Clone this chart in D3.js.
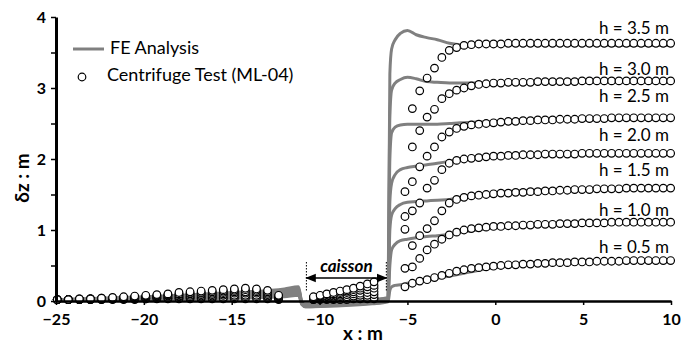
<!DOCTYPE html>
<html>
<head>
<meta charset="utf-8">
<script src="https://cdn.jsdelivr.net/npm/d3@7"></script>
<style>
  body { margin: 0; background: #fff; }
  svg { display: block; font-family: Lato, "Open Sans", sans-serif; }
</style>
</head>
<body>
<svg id="chart" width="694" height="344"></svg>
<script>
// levels of excavation h (m)
var levels = ['h = 0.5 m', 'h = 1.0 m', 'h = 1.5 m', 'h = 2.0 m', 'h = 2.5 m', 'h = 3.0 m', 'h = 3.5 m'];

// FE analysis, sampled at shared x positions
var feX = [-25, -20, -15, -12, -11.2, -11.0, -10.8, -9, -7, -6.1, -6.0, -5.9, -5.7, -5.4, -5.0, -4.5, -3.9, -3.3, -2.6, -2, -1, 0, 1, 2, 3, 5, 7, 10];
var fe05 = [0.00, 0.02, 0.04, 0.06, 0.08, -0.05, -0.08, -0.07, -0.04, -0.01, 0.15, 0.20, 0.22, 0.23, 0.25, 0.27, 0.30, 0.32, 0.35, 0.38, 0.43, 0.47, 0.50, 0.53, 0.55, 0.56, 0.56, 0.55];
var fe10 = [0.00, 0.03, 0.05, 0.08, 0.10, -0.05, -0.08, -0.06, -0.03, 0.00, 0.50, 0.72, 0.80, 0.85, 0.87, 0.89, 0.91, 0.92, 0.94, 0.97, 1.00, 1.03, 1.05, 1.07, 1.08, 1.09, 1.09, 1.09];
var fe15 = [0.01, 0.03, 0.06, 0.10, 0.12, -0.04, -0.07, -0.05, -0.02, 0.01, 1.00, 1.21, 1.30, 1.36, 1.39, 1.40, 1.41, 1.42, 1.43, 1.46, 1.50, 1.53, 1.55, 1.56, 1.57, 1.58, 1.59, 1.59];
var fe20 = [0.01, 0.04, 0.08, 0.12, 0.14, -0.04, -0.07, -0.05, -0.01, 0.02, 1.40, 1.66, 1.78, 1.85, 1.88, 1.90, 1.92, 1.94, 1.97, 2.00, 2.03, 2.05, 2.06, 2.07, 2.07, 2.08, 2.08, 2.08];
var fe25 = [0.01, 0.04, 0.09, 0.14, 0.16, -0.03, -0.06, -0.04, 0.00, 0.03, 2.00, 2.37, 2.45, 2.48, 2.49, 2.49, 2.49, 2.49, 2.50, 2.51, 2.52, 2.53, 2.54, 2.54, 2.55, 2.55, 2.56, 2.56];
var fe30 = [0.02, 0.05, 0.10, 0.15, 0.18, -0.03, -0.06, -0.03, 0.01, 0.04, 2.60, 2.97, 3.07, 3.12, 3.15, 3.13, 3.09, 3.08, 3.07, 3.07, 3.07, 3.07, 3.07, 3.07, 3.08, 3.08, 3.08, 3.08];
var fe35 = [0.02, 0.06, 0.12, 0.17, 0.20, -0.02, -0.05, -0.02, 0.02, 0.05, 3.20, 3.55, 3.68, 3.77, 3.81, 3.75, 3.71, 3.68, 3.63, 3.61, 3.61, 3.61, 3.61, 3.61, 3.61, 3.61, 3.60, 3.60];

// centrifuge test ML-04: three measuring stretches
var ctLeftX = [-24.93, -24.30, -23.67, -23.04, -22.41, -21.78, -21.15, -20.52, -19.89, -19.26, -18.63, -18.00, -17.37, -16.74, -16.11, -15.48, -14.85, -14.22, -13.59, -12.96, -12.33];
var ctCaisX = [-10.35, -9.97, -9.59, -9.21, -8.83, -8.45, -8.07, -7.69, -7.28, -6.90];
var ctRightX = [-5.14, -4.72, -4.30, -3.88, -3.46, -3.04, -2.62, -2.20, -1.78, -1.36, -0.94, -0.52, -0.10, 0.32, 0.74, 1.16, 1.58, 2.00, 2.42, 2.84, 3.26, 3.68, 4.10, 4.52, 4.94, 5.36, 5.78, 6.20, 6.62, 7.04, 7.46, 7.88, 8.30, 8.72, 9.14, 9.56, 9.98];

var ct05 = {
  left: [0.02, 0.02, 0.02, 0.02, 0.02, 0.02, 0.02, 0.02, 0.03, 0.03, 0.03, 0.03, 0.03, 0.03, 0.03, 0.03, 0.03, 0.03, 0.03, 0.03, 0.02],
  cais: [0.02, 0.02, 0.02, 0.02, 0.02, 0.02, 0.03, 0.03, 0.03, 0.03],
  right: [0.20, 0.25, 0.28, 0.30, 0.33, 0.36, 0.39, 0.42, 0.44, 0.46, 0.47, 0.48, 0.49, 0.50, 0.51, 0.51, 0.52, 0.52, 0.53, 0.53, 0.54, 0.54, 0.54, 0.55, 0.55, 0.55, 0.56, 0.56, 0.56, 0.56, 0.57, 0.57, 0.57, 0.57, 0.57, 0.57, 0.57]
};
var ct10 = {
  left: [0.02, 0.02, 0.02, 0.02, 0.02, 0.03, 0.03, 0.03, 0.03, 0.04, 0.04, 0.04, 0.05, 0.05, 0.05, 0.05, 0.06, 0.06, 0.06, 0.05, 0.03],
  cais: [0.02, 0.03, 0.03, 0.03, 0.04, 0.04, 0.04, 0.05, 0.05, 0.05],
  right: [0.46, 0.48, 0.60, 0.72, 0.80, 0.87, 0.93, 0.97, 1.00, 1.02, 1.03, 1.04, 1.05, 1.05, 1.06, 1.06, 1.07, 1.07, 1.08, 1.08, 1.08, 1.09, 1.09, 1.09, 1.10, 1.10, 1.10, 1.10, 1.11, 1.11, 1.11, 1.11, 1.11, 1.11, 1.11, 1.11, 1.11]
};
var ct15 = {
  left: [0.02, 0.02, 0.02, 0.02, 0.03, 0.03, 0.03, 0.04, 0.04, 0.05, 0.05, 0.06, 0.06, 0.07, 0.07, 0.08, 0.08, 0.08, 0.08, 0.07, 0.04],
  cais: [0.03, 0.04, 0.04, 0.05, 0.06, 0.06, 0.07, 0.08, 0.08, 0.09],
  right: [1.01, 0.78, 0.92, 1.02, 1.13, 1.27, 1.38, 1.43, 1.46, 1.48, 1.49, 1.50, 1.51, 1.52, 1.52, 1.53, 1.53, 1.54, 1.54, 1.55, 1.55, 1.56, 1.56, 1.57, 1.57, 1.57, 1.58, 1.58, 1.58, 1.58, 1.59, 1.59, 1.59, 1.59, 1.59, 1.59, 1.59]
};
var ct20 = {
  left: [0.02, 0.02, 0.02, 0.03, 0.03, 0.03, 0.04, 0.05, 0.05, 0.06, 0.07, 0.07, 0.08, 0.09, 0.09, 0.10, 0.11, 0.11, 0.11, 0.09, 0.05],
  cais: [0.03, 0.05, 0.06, 0.07, 0.08, 0.09, 0.10, 0.11, 0.12, 0.13],
  right: [1.19, 1.27, 1.38, 1.59, 1.70, 1.85, 1.94, 1.98, 2.00, 2.01, 2.02, 2.03, 2.04, 2.04, 2.05, 2.05, 2.06, 2.06, 2.06, 2.07, 2.07, 2.07, 2.07, 2.07, 2.08, 2.08, 2.08, 2.08, 2.08, 2.08, 2.08, 2.08, 2.08, 2.08, 2.08, 2.08, 2.08]
};
var ct25 = {
  left: [0.02, 0.02, 0.02, 0.03, 0.03, 0.04, 0.05, 0.05, 0.06, 0.07, 0.08, 0.09, 0.10, 0.11, 0.11, 0.12, 0.13, 0.13, 0.13, 0.11, 0.06],
  cais: [0.04, 0.06, 0.07, 0.09, 0.10, 0.12, 0.13, 0.15, 0.16, 0.18],
  right: [1.54, 1.68, 1.89, 2.04, 2.17, 2.31, 2.38, 2.43, 2.46, 2.48, 2.49, 2.50, 2.51, 2.52, 2.53, 2.53, 2.54, 2.54, 2.55, 2.55, 2.55, 2.56, 2.56, 2.56, 2.57, 2.57, 2.57, 2.57, 2.58, 2.58, 2.58, 2.58, 2.58, 2.58, 2.58, 2.58, 2.58]
};
var ct30 = {
  left: [0.02, 0.02, 0.03, 0.03, 0.04, 0.04, 0.05, 0.06, 0.07, 0.08, 0.09, 0.10, 0.11, 0.12, 0.13, 0.14, 0.15, 0.16, 0.15, 0.13, 0.07],
  cais: [0.05, 0.07, 0.09, 0.10, 0.12, 0.14, 0.16, 0.18, 0.20, 0.22],
  right: [null, 2.17, 2.40, 2.59, 2.70, 2.85, 2.92, 2.97, 3.00, 3.03, 3.05, 3.06, 3.07, 3.07, 3.08, 3.08, 3.08, 3.08, 3.09, 3.09, 3.09, 3.09, 3.09, 3.09, 3.10, 3.10, 3.10, 3.10, 3.10, 3.10, 3.10, 3.10, 3.10, 3.10, 3.10, 3.10, 3.10]
};
var ct35 = {
  left: [0.02, 0.02, 0.03, 0.03, 0.04, 0.05, 0.06, 0.07, 0.08, 0.09, 0.10, 0.12, 0.13, 0.14, 0.15, 0.16, 0.17, 0.18, 0.17, 0.15, 0.08],
  cais: [0.06, 0.08, 0.10, 0.12, 0.14, 0.16, 0.18, 0.21, 0.24, 0.27],
  right: [null, 2.71, 2.96, 3.14, 3.28, 3.43, 3.53, 3.57, 3.60, 3.61, 3.62, 3.62, 3.62, 3.62, 3.63, 3.63, 3.63, 3.63, 3.63, 3.63, 3.63, 3.63, 3.63, 3.63, 3.63, 3.63, 3.63, 3.63, 3.63, 3.63, 3.63, 3.63, 3.63, 3.63, 3.63, 3.63, 3.63]
};

var feSeries = [fe05, fe10, fe15, fe20, fe25, fe30, fe35];
var ctSeries = [ct05, ct10, ct15, ct20, ct25, ct30, ct35];
// label positions (y in data units) beside the curves at the right edge
var labelY = [0.74, 1.26, 1.82, 2.31, 2.86, 3.25, 3.82];

var xTicks = [-25, -20, -15, -10, -5, 0, 5, 10];
var yTicks = [0, 0.5, 1, 1.5, 2, 2.5, 3, 3.5, 4];

var svg = d3.select('#chart');
var x = d3.scaleLinear().domain([-25, 10]).range([56, 671]);
var y = d3.scaleLinear().domain([0, 4]).range([301, 17]);

// FE curves
var line = d3.line()
    .x(function(d) { return x(d[0]); })
    .y(function(d) { return y(d[1]); })
    .curve(d3.curveMonotoneX);

svg.append('g').selectAll('path')
    .data(feSeries)
    .enter().append('path')
    .attr('d', function(s) { return line(s.map(function(v, i) { return [feX[i], v]; })); })
    .attr('fill', 'none')
    .attr('stroke', '#808080')
    .attr('stroke-width', 3)
    .attr('stroke-linejoin', 'round');

// centrifuge points
var pts = [];
ctSeries.forEach(function(s) {
    s.left.forEach(function(v, i) { pts.push([ctLeftX[i], v]); });
    s.cais.forEach(function(v, i) { pts.push([ctCaisX[i], v]); });
    s.right.forEach(function(v, i) { if (v !== null) pts.push([ctRightX[i], v]); });
});
svg.append('g').selectAll('circle')
    .data(pts)
    .enter().append('circle')
    .attr('cx', function(d) { return x(d[0]); })
    .attr('cy', function(d) { return y(d[1]); })
    .attr('r', 3.8)
    .attr('fill', '#fff')
    .attr('stroke', '#000')
    .attr('stroke-width', 1.2);

// axes
var xAxis = svg.append('g')
    .attr('transform', 'translate(0,' + y(0) + ')')
    .call(d3.axisBottom(x).tickValues(xTicks).tickSize(4).tickPadding(9).tickSizeOuter(0));
var yAxis = svg.append('g')
    .attr('transform', 'translate(' + x(-25) + ',0)')
    .call(d3.axisLeft(y).tickValues(yTicks).tickSize(5).tickPadding(5).tickSizeOuter(0)
        .tickFormat(function(d) { return d % 1 === 0 ? d : ''; }));
xAxis.select('.domain').attr('stroke-width', 2.5);
yAxis.select('.domain').attr('stroke-width', 3);
svg.selectAll('.tick line').attr('stroke-width', 1.5);
svg.selectAll('.tick text')
    .attr('font-family', 'Lato, sans-serif')
    .attr('font-size', 16)
    .attr('font-weight', 'bold')
    .attr('fill', '#000');

svg.append('text')
    .attr('x', 363).attr('y', 340)
    .attr('text-anchor', 'middle')
    .attr('font-size', 19).attr('font-weight', 'bold')
    .text('x : m');
svg.append('text')
    .attr('transform', 'translate(29,178) rotate(-90)')
    .attr('text-anchor', 'middle')
    .attr('font-size', 19).attr('font-weight', 'bold')
    .text('δz : m');

// level labels
svg.append('g').selectAll('text')
    .data(levels)
    .enter().append('text')
    .attr('x', 669)
    .attr('y', function(d, i) { return y(labelY[i]); })
    .attr('text-anchor', 'end')
    .attr('dominant-baseline', 'middle')
    .attr('font-size', 17)
    .text(function(d) { return d; });

// caisson annotation
var cL = x(-10.75), cR = x(-6.2), cY = 278;
svg.append('defs').append('marker')
    .attr('id', 'ah').attr('viewBox', '0 0 10 10')
    .attr('refX', 9).attr('refY', 5)
    .attr('markerWidth', 7).attr('markerHeight', 7)
    .attr('orient', 'auto-start-reverse')
    .append('path').attr('d', 'M0,1 L10,5 L0,9 z').attr('fill', '#000');
svg.append('line')
    .attr('x1', cL).attr('x2', cR).attr('y1', cY).attr('y2', cY)
    .attr('stroke', '#000').attr('stroke-width', 1.5)
    .attr('marker-start', 'url(#ah)').attr('marker-end', 'url(#ah)');
[cL, cR].forEach(function(px) {
    svg.append('line')
        .attr('x1', px).attr('x2', px).attr('y1', 262).attr('y2', 292)
        .attr('stroke', '#000').attr('stroke-width', 1)
        .attr('stroke-dasharray', '1.5,1.5');
});
svg.append('text')
    .attr('x', (cL + cR) / 2).attr('y', 272)
    .attr('text-anchor', 'middle')
    .attr('font-size', 17).attr('font-weight', 'bold').attr('font-style', 'italic')
    .text('caisson');

// legend
var lg = svg.append('g');
lg.append('line').attr('x1', 73).attr('x2', 104).attr('y1', 49).attr('y2', 49)
    .attr('stroke', '#808080').attr('stroke-width', 3);
lg.append('text').attr('x', 110).attr('y', 49).attr('dominant-baseline', 'middle')
    .attr('font-size', 18).text('FE Analysis');
lg.append('circle').attr('cx', 82).attr('cy', 77).attr('r', 3.8)
    .attr('fill', '#fff').attr('stroke', '#000').attr('stroke-width', 1.2);
lg.append('text').attr('x', 107).attr('y', 76).attr('dominant-baseline', 'middle')
    .attr('font-size', 18).text('Centrifuge Test (ML-04)');
</script>
</body>
</html>
